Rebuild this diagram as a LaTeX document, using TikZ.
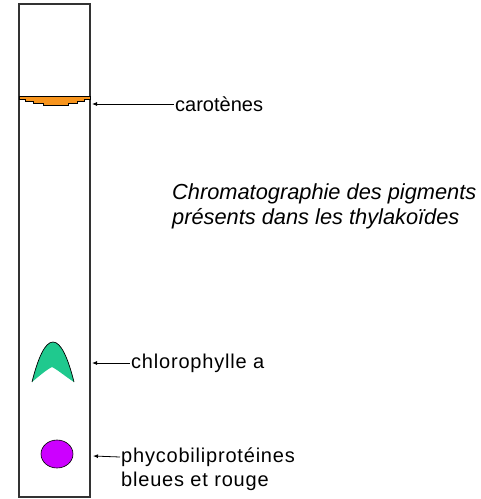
\documentclass[tikz,border=0pt]{standalone}
\usepackage{fontspec}
\setmainfont{Liberation Sans}
\newfontfamily\lblfont[LetterSpace=4]{Liberation Sans}
\usetikzlibrary{arrows.meta,positioning}
\definecolor{carot}{HTML}{F7941D}
\definecolor{chloro}{HTML}{1FC98E}
\definecolor{phyco}{HTML}{CC00FF}
\definecolor{strip}{HTML}{333333}
\begin{document}
\begin{tikzpicture}[x=1pt,y=-1pt,>={Latex[length=5pt,width=4pt]},
 lbl/.style={anchor=west,inner sep=1pt,font=\lblfont\fontsize{20}{24}\selectfont},
 pointer/.style={<-,line width=0.8pt}]
\useasboundingbox (0,0) rectangle (481,499);
\draw[strip,line width=1.6pt] (19,4) rectangle (90,497);
\filldraw[fill=carot,draw=black,line width=0.6pt] (19,96) -- (90,96) -- (90,99) -- (84,99) -- (84,101) -- (77,101) -- (77,103) -- (68,103) -- (68,105) -- (43,105) -- (43,103) -- (33,103) -- (33,101) -- (25,101) -- (25,99) -- (19,99) -- cycle;
\fill[chloro] (32,382) .. controls (38,358) and (45,342) .. (53,342) .. controls (61,342) and (68,358) .. (74,382) .. controls (66,377) and (58,370) .. (52,367) .. controls (46,370) and (38,377) .. (32,382) -- cycle;
\draw[line width=0.7pt] (32,382) .. controls (38,358) and (45,342) .. (53,342) .. controls (61,342) and (68,358) .. (74,382);
\filldraw[fill=phyco,draw=black,line width=0.6pt] (57,454) ellipse [x radius=16,y radius=14];
\node[anchor=base west,align=left,inner sep=0pt,font=\itshape\fontsize{21.8}{25}\selectfont] (title) at (172,224) {Chromatographie des pigments\\présents dans les thylakoïdes};
\coordinate (carTip) at (92,104);
\coordinate (chlTip) at (92,363);
\coordinate (phyTip) at (93,456);
\node[lbl,font=\fontsize{20}{24}\selectfont] (car) at (174,104) {carotènes};
\node[lbl] (chl) at (130,363) {chlorophylle a};
\node[lbl] (phy) at (120,457) {phycobiliprotéines};
\node[lbl,anchor=base west] (phyb) at ([yshift=-24pt]phy.base west) {bleues et rouge};
\draw[pointer] (carTip) -- (car.west);
\draw[pointer] (chlTip) -- (chl.west);
\draw[pointer] (phyTip) -- (phy.west);
\end{tikzpicture}
\end{document}
